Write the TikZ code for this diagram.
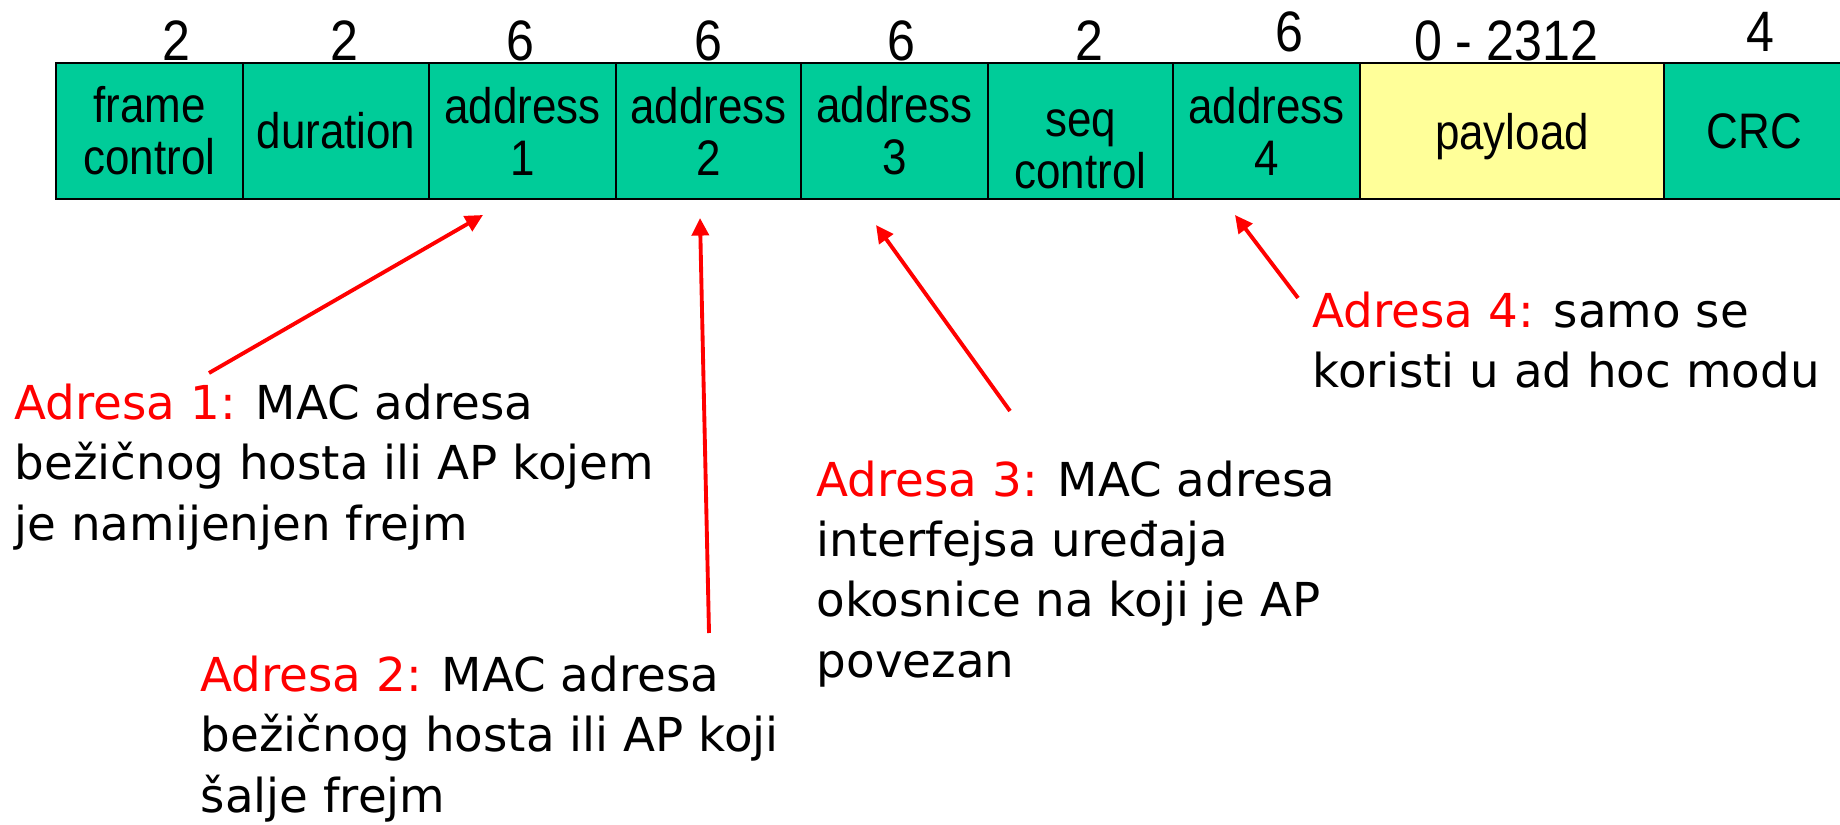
\documentclass[tikz,border=0pt]{standalone}
\usepackage{fontspec}
\setmainfont{Liberation Sans}
\newfontfamily\narrowfont[FakeStretch=0.88]{Liberation Sans}
\newfontfamily\comicfont{DejaVu Sans}
\usetikzlibrary{arrows.meta}
\definecolor{fieldgreen}{RGB}{0,204,153}
\definecolor{payyellow}{RGB}{255,255,153}

\begin{document}
\begin{tikzpicture}
  [x=0.01cm,y=-0.01cm,
   field/.style={draw,line width=0.7pt,fill=fieldgreen,minimum height=1.36cm,
     inner sep=0pt,align=center,font=\narrowfont\fontsize{14.2}{14.8}\selectfont},
   size/.style={inner sep=0pt,font=\narrowfont\fontsize{16.2}{18}\selectfont},
   note/.style={anchor=west,align=left,inner sep=0pt,
     font=\comicfont\fontsize{13.3}{17.1}\selectfont},
   pointer/.style={red,line width=1.1pt,-{Triangle[length=5pt,width=4.8pt]}}]
  \useasboundingbox (0,0) rectangle (1840,825);

  % frame fields
  \node[field,minimum width=1.87cm] (f1) at (149.5,131) {frame\\control};
  \node[field,minimum width=1.86cm] (f2) at (336,131) {duration};
  \node[field,minimum width=1.87cm] (f3) at (522.5,131) {address\\1};
  \node[field,minimum width=1.85cm] (f4) at (708.5,131) {address\\2};
  \node[field,minimum width=1.87cm] (f5) at (894.5,131) {address\\3};
  \node[field,minimum width=1.85cm] (f6) at (1080.5,131) {\rule{0pt}{18pt}seq\\control};
  \node[field,minimum width=1.87cm] (f7) at (1266.5,131) {address\\4};
  \node[field,minimum width=3.04cm,fill=payyellow] (f8) at (1512,131) {\raisebox{0pt}[\height][0pt]{payload}};
  \node[field,minimum width=1.81cm] (f9) at (1754.5,131) {CRC};

  % field lengths
  \node[size] (s1) at (176,41) {2};
  \node[size] (s2) at (344,41) {2};
  \node[size] (s3) at (520,41) {6};
  \node[size] (s4) at (708,41) {6};
  \node[size] (s5) at (901,41) {6};
  \node[size] (s6) at (1089,41) {2};
  \node[size] (s7) at (1289,32) {6};
  \node[size] (s8) at (1506,41) {0 - 2312};
  \node[size] (s9) at (1760,32) {4};

  % notes
  \node[note] (a1) at (14,467) {{\color{red}Adresa 1:} MAC adresa\\bežičnog hosta ili AP kojem\\je namijenjen frejm};
  \node[note] (a2) at (200,739) {{\color{red}Adresa 2:} MAC adresa\\bežičnog hosta ili AP koji\\šalje frejm};
  \node[note] (a3) at (816,574) {{\color{red}Adresa 3:} MAC adresa\\interfejsa uređaja\\okosnice na koji je AP\\povezan};
  \node[note] (a4) at (1312,340) {{\color{red}Adresa 4:} samo se\\koristi u ad hoc modu};

  \coordinate (t1) at (209,373);
  \coordinate (h1) at (483,215);
  \coordinate (t2) at (709,633);
  \coordinate (h2) at (700,218);
  \coordinate (t3) at (1010,411);
  \coordinate (h3) at (876,225);
  \coordinate (t4) at (1298,298);
  \coordinate (h4) at (1235,215);

  \draw[pointer] (t1) -- (h1);
  \draw[pointer] (t2) -- (h2);
  \draw[pointer] (t3) -- (h3);
  \draw[pointer] (t4) -- (h4);

\end{tikzpicture}
\end{document}
